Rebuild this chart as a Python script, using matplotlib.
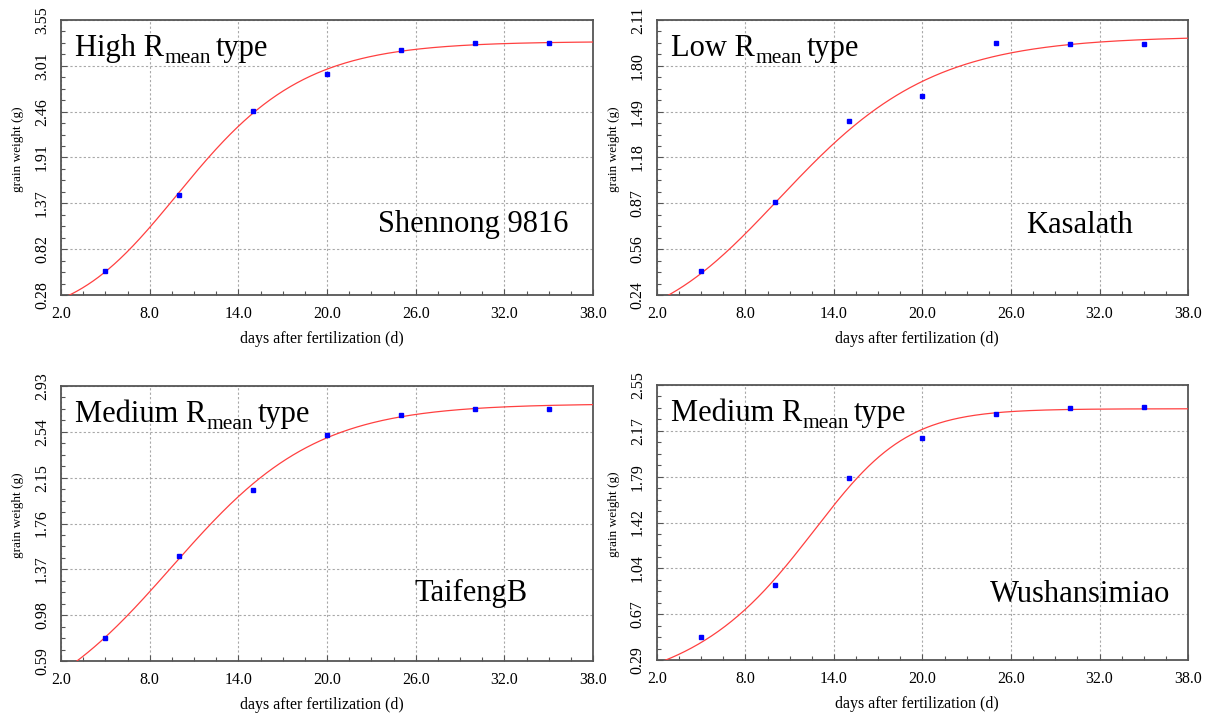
import numpy as np
import matplotlib
matplotlib.use("Agg")
import matplotlib.pyplot as plt
from matplotlib.ticker import AutoMinorLocator

plt.rcParams['font.family'] = ['Liberation Serif', 'DejaVu Serif']

# sampling days after fertilization
days = [5, 10, 15, 20, 25, 30, 35]

# mean grain weight at each sampling day (g)
shennong_weight = [0.565, 1.469, 2.472, 2.908, 3.193, 3.277, 3.277]
kasalath_weight = [0.400, 0.871, 1.423, 1.593, 1.954, 1.947, 1.947]
taifengb_weight = [0.784, 1.486, 2.048, 2.517, 2.685, 2.736, 2.736]
wushan_weight = [0.477, 0.906, 1.783, 2.113, 2.311, 2.363, 2.366]

# Richards curve parameters: A (final weight), k, t_max, nu
shennong_fit = [3.295, 0.2185, 9.82, 0.5]
kasalath_fit = [2.000, 0.179, 10.22, 0.5]
taifengb_fit = [2.780, 0.2045, 9.49, 1.0]
wushan_fit = [2.355, 0.3453, 12.685, 2.0]

varieties = ["Shennong 9816", "Kasalath", "TaifengB", "Wushansimiao"]
rmean_types = ["High", "Low", "Medium", "Medium"]

x_ticklabels = ["2.0", "8.0", "14.0", "20.0", "26.0", "32.0", "38.0"]
shennong_yticks = ["0.28", "0.82", "1.37", "1.91", "2.46", "3.01", "3.55"]
kasalath_yticks = ["0.24", "0.56", "0.87", "1.18", "1.49", "1.80", "2.11"]
taifengb_yticks = ["0.59", "0.98", "1.37", "1.76", "2.15", "2.54", "2.93"]
wushan_yticks = ["0.29", "0.67", "1.04", "1.42", "1.79", "2.17", "2.55"]


def richards(t, params):
    """Richards growth curve W = A * (1 + nu*exp(-k*(t - tm)))^(-1/nu)."""
    a, k, tm, nu = params
    return a * (1.0 + nu * np.exp(-k * (t - tm))) ** (-1.0 / nu)


def type_label(ax, rtype, x, y, size=22):
    """'<type> R_mean type' with a dropped subscript, built from three text pieces."""
    head = ax.text(x, y, rtype + ' R', transform=ax.transAxes,
                   fontsize=size, ha='left', va='baseline', zorder=5)
    sub = ax.annotate('mean', xy=(1, 0), xycoords=head, xytext=(0.3, -3.6),
                      textcoords='offset points', fontsize=size * 0.7,
                      ha='left', va='bottom', zorder=5)
    ax.annotate('type', xy=(1, 0), xycoords=(sub, head), xytext=(3.5, 0),
                textcoords='offset points', fontsize=size,
                ha='left', va='bottom', zorder=5)


def draw_panel(ax, weight, fit, yticks, rtype, name, name_pos):
    x_lo, x_hi = float(x_ticklabels[0]), float(x_ticklabels[-1])
    y_lo, y_hi = float(yticks[0]), float(yticks[-1])

    # fitted curve
    t = np.linspace(x_lo, x_hi, 400)
    ax.plot(t, richards(t, fit), color='#ff4040', lw=0.9, zorder=3)

    # observed means
    ax.plot(days, weight, 's', color='#0000ff', ms=2.6, mec='#0000ff', zorder=4)

    ax.set_xlim(x_lo, x_hi)
    ax.set_ylim(y_lo, y_hi)
    ax.set_xticks(np.linspace(x_lo, x_hi, len(x_ticklabels)))
    ax.set_xticklabels(x_ticklabels)
    ax.set_yticks(np.linspace(y_lo, y_hi, len(yticks)))
    ax.set_yticklabels(yticks)
    ax.xaxis.set_minor_locator(AutoMinorLocator(4))
    ax.yaxis.set_minor_locator(AutoMinorLocator(4))

    ax.grid(True, which='major', color='#a8a8a8', lw=0.8, linestyle=(0, (2, 2)))
    ax.tick_params(which='both', direction='in', color='#555555', labelsize=11.5,
                   top=False, right=False)
    ax.tick_params(which='major', length=4, width=0.8, pad=8)
    ax.tick_params(which='minor', length=3, width=0.8)
    ax.tick_params(axis='y', labelrotation=90)
    for lab in ax.get_yticklabels():
        lab.set_va('center')

    for side in ['left', 'bottom', 'top', 'right']:
        ax.spines[side].set_color('#555555')
        ax.spines[side].set_linewidth(1.3)

    ax.set_xlabel('days after fertilization (d)', fontsize=11.5, va='top')
    ax.xaxis.set_label_coords(0.49, -0.131)
    ax.set_ylabel('grain weight (g)', fontsize=9.5)
    ax.yaxis.set_label_coords(-0.07, 0.53)

    type_label(ax, rtype, 0.026, 0.869)
    ax.text(name_pos[0], name_pos[1], name, transform=ax.transAxes,
            fontsize=22, ha='right', va='baseline', zorder=5)


def main():
    fig = plt.figure(figsize=(12.13, 7.17), dpi=100)

    panels = [
        ([0.0503, 0.5886, 0.4386, 0.3835], shennong_weight, shennong_fit, shennong_yticks, (0.954, 0.230)),
        ([0.5416, 0.5886, 0.4378, 0.3835], kasalath_weight, kasalath_fit, kasalath_yticks, (0.896, 0.227)),
        ([0.0503, 0.0781, 0.4386, 0.3835], taifengb_weight, taifengb_fit, taifengb_yticks, (0.877, 0.217)),
        ([0.5416, 0.0795, 0.4378, 0.3835], wushan_weight, wushan_fit, wushan_yticks, (0.967, 0.210)),
    ]

    for i, (rect, weight, fit, yticks, name_pos) in enumerate(panels):
        ax = fig.add_axes(rect)
        draw_panel(ax, weight, fit, yticks, rmean_types[i], varieties[i], name_pos)

    fig.savefig('out.png', dpi=100)


if __name__ == "__main__":
    main()
